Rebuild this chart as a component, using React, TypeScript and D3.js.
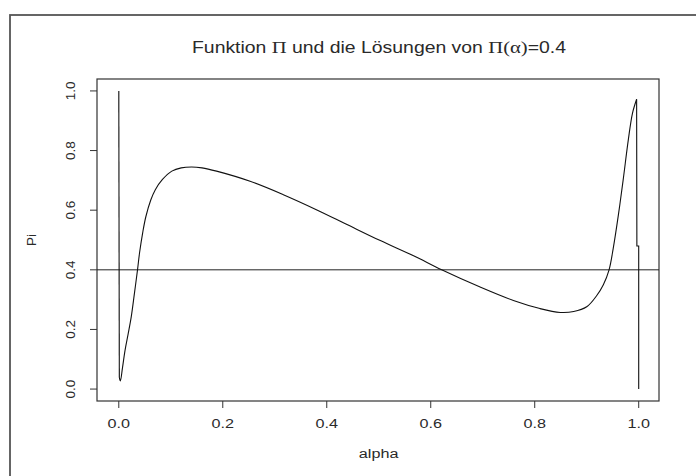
import React from "react";
import * as d3 from "d3";

const alphaLeft = [0, 0.001];
const piLeft = [1.0, 0.04];

const alphaMain = [0.001, 0.003, 0.007, 0.012, 0.018, 0.024, 0.03, 0.036, 0.04, 0.046, 0.052, 0.0615, 0.07, 0.084, 0.102, 0.12, 0.14, 0.16, 0.188, 0.2525, 0.3165, 0.381, 0.44, 0.503, 0.567, 0.621, 0.695, 0.759, 0.81, 0.849, 0.875, 0.9, 0.919, 0.932, 0.943, 0.951, 0.961, 0.97, 0.98, 0.988, 0.996];
const piMain = [0.04, 0.027, 0.07, 0.13, 0.185, 0.243, 0.32, 0.4, 0.458, 0.525, 0.578, 0.634, 0.668, 0.703, 0.731, 0.742, 0.745, 0.742, 0.731, 0.697, 0.652, 0.601, 0.551, 0.498, 0.447, 0.4, 0.342, 0.297, 0.27, 0.257, 0.26, 0.276, 0.313, 0.35, 0.4, 0.472, 0.585, 0.7, 0.836, 0.925, 0.972];

const alphaRight = [0.996, 0.9965, 1.0, 1.0];
const piRight = [0.972, 0.48, 0.48, 0.0];

const xTicks = [0, 0.2, 0.4, 0.6, 0.8, 1.0];
const yTicks = [0, 0.2, 0.4, 0.6, 0.8, 1.0];
const hLineValue = 0.4;

const xLabel = "alpha";
const yLabel = "Pi";

export default function App() {
  const W = 696, H = 476;
  const left = 97, right = 659, top = 79, bottom = 401;
  const x = d3.scaleLinear().domain([-0.04, 1.04]).range([98, 659.5]);
  const y = d3.scaleLinear().domain([-0.04, 1.04]).range([bottom, top]);

  const linear = d3.line<[number, number]>().x(d => x(d[0])).y(d => y(d[1]));
  const smooth = d3.line<[number, number]>().x(d => x(d[0])).y(d => y(d[1])).curve(d3.curveCatmullRom.alpha(0.5));

  const leftPts = alphaLeft.map((a, i) => [a, piLeft[i]] as [number, number]);
  const mainPts = alphaMain.map((a, i) => [a, piMain[i]] as [number, number]);
  const rightPts = alphaRight.map((a, i) => [a, piRight[i]] as [number, number]);

  const font = "'Liberation Sans', Arial, sans-serif";
  const serif = "'Liberation Serif', 'DejaVu Serif', serif";
  const textColor = "#2a2a2a";

  return (
    <svg width={W} height={H} style={{ position: "absolute", left: 0, top: 0, background: "#fff" }}>
      <rect x={0} y={0} width={W} height={H} fill="#fff" />
      {/* outer frame */}
      <rect x={10} y={15} width={W + 20} height={H + 20} fill="none" stroke="#555" strokeWidth={1.8} />
      {/* plot box */}
      <rect x={left} y={top} width={right - left} height={bottom - top} fill="none" stroke="#333" strokeWidth={1.2} />

      {/* title */}
      <text x={379} y={53} textAnchor="middle" fontFamily={font} fontSize={16} fill={textColor} textLength={374} lengthAdjust="spacingAndGlyphs">
        <tspan>Funktion </tspan>
        <tspan fontFamily={serif} fontSize={17}>Π</tspan>
        <tspan> und die Lösungen von </tspan>
        <tspan fontFamily={serif} fontSize={17}>Π(α)</tspan>
        <tspan>=0.4</tspan>
      </text>

      {/* x axis */}
      {xTicks.map(t => (
        <g key={"x" + t}>
          <line x1={x(t)} x2={x(t)} y1={bottom} y2={bottom + 7} stroke="#333" strokeWidth={1} />
          <text x={x(t)} y={428} textAnchor="middle" fontFamily={font} fontSize={13.5} fill={textColor} transform={`translate(${x(t)},0) scale(1.2,1) translate(${-x(t)},0)`}>
            {t.toFixed(1)}
          </text>
        </g>
      ))}
      <text x={378.7} y={458} textAnchor="middle" fontFamily={font} fontSize={13.5} fill={textColor}
        transform={`translate(378.7,0) scale(1.2,1) translate(-378.7,0)`}>{xLabel}</text>

      {/* y axis */}
      {yTicks.map(t => (
        <g key={"y" + t}>
          <line x1={left} x2={left - 7} y1={y(t)} y2={y(t)} stroke="#333" strokeWidth={1} />
          <text transform={`translate(75,${y(t)}) rotate(-90)`} textAnchor="middle" fontFamily={font} fontSize={13.5} fill={textColor}>
            {t.toFixed(1)}
          </text>
        </g>
      ))}
      <text transform={`translate(36,240) rotate(-90)`} textAnchor="middle" fontFamily={font} fontSize={13.5} fill={textColor}>{yLabel}</text>

      {/* horizontal line */}
      <line x1={left} x2={right} y1={y(hLineValue)} y2={y(hLineValue)} stroke="#222" strokeWidth={1} />

      {/* curve */}
      <path d={linear(leftPts) || ""} fill="none" stroke="#111" strokeWidth={1.1} />
      <path d={smooth(mainPts) || ""} fill="none" stroke="#111" strokeWidth={1.1} />
      <path d={linear(rightPts) || ""} fill="none" stroke="#111" strokeWidth={1.1} />
    </svg>
  );
}
